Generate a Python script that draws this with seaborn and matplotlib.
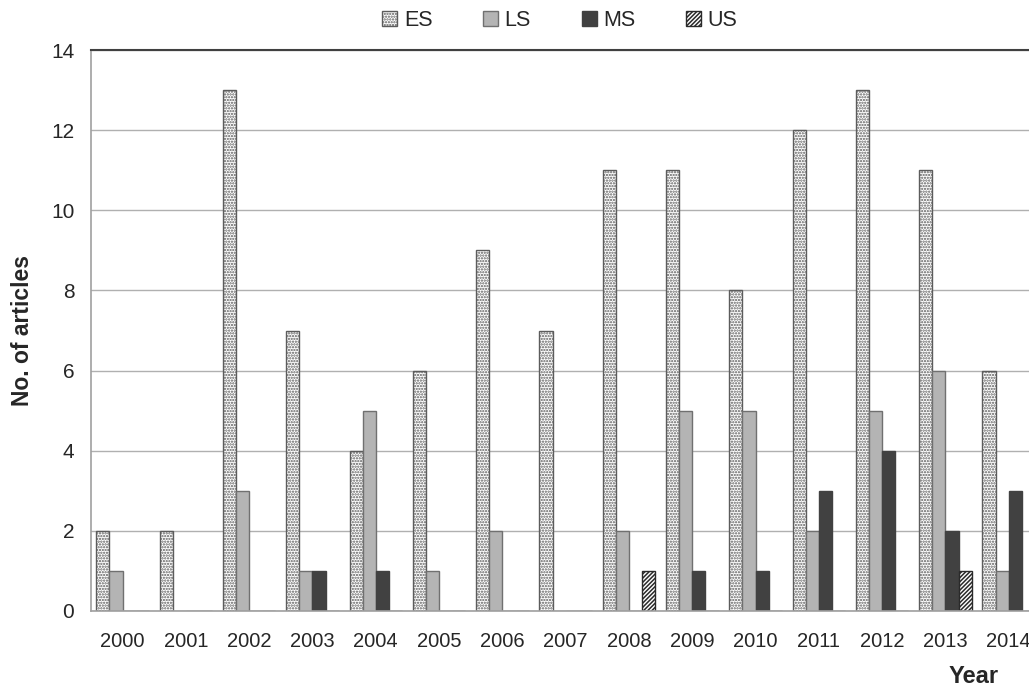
import pandas as pd
import matplotlib
matplotlib.use('Agg')
import matplotlib.pyplot as plt
import seaborn as sns

# Data
years = ['2000', '2001', '2002', '2003', '2004', '2005', '2006', '2007',
         '2008', '2009', '2010', '2011', '2012', '2013', '2014']
es = [2, 2, 13, 7, 4, 6, 9, 7, 11, 11, 8, 12, 13, 11, 6]
ls = [1, 0, 3, 1, 5, 1, 2, 0, 2, 5, 5, 2, 5, 6, 1]
ms = [0, 0, 0, 1, 1, 0, 0, 0, 0, 1, 1, 3, 4, 2, 3]
us = [0, 0, 0, 0, 0, 0, 0, 0, 1, 0, 0, 0, 0, 1, 0]
series = ['ES', 'LS', 'MS', 'US']

df = pd.DataFrame({'Year': years, 'ES': es, 'LS': ls, 'MS': ms, 'US': us})
df_long = df.melt(id_vars='Year', var_name='Type', value_name='Count')

sns.set_style("white")
plt.rcParams['font.family'] = ['Liberation Sans', 'DejaVu Sans']
plt.rcParams['hatch.linewidth'] = 1.1

fig = plt.figure(figsize=(10.29, 6.9), dpi=100)
ax = fig.add_axes([0.0884, 0.1145, 0.9116, 0.813])

palette = {'ES': 'white', 'LS': '#b4b4b4', 'MS': '#414141', 'US': 'white'}
sns.barplot(data=df_long, x='Year', y='Count', hue='Type', hue_order=series,
            palette=palette, width=0.83, gap=0, saturation=1, legend=False,
            edgecolor='#707070', linewidth=1, ax=ax)

hatches = {'ES': '......', 'LS': '', 'MS': '', 'US': '////////'}
edges = {'ES': '#5c5c5c', 'LS': '#707070', 'MS': '#414141', 'US': '#2a2a2a'}
for name, cont in zip(series, ax.containers):
    for p in cont.patches:
        p.set_hatch(hatches[name])
        p.set_edgecolor(edges[name])

# group separators as small inward ticks (set before xlim, set_xticks expands limits)
ax.set_xticks([i + 0.5 for i in range(-1, 15)], minor=True)
ax.set_xlim(-0.5, 14.32)
ax.set_ylim(0, 14)
ax.set_yticks(range(0, 15, 2))
ax.yaxis.grid(True, color='#b0b0b0', linewidth=1)
ax.set_axisbelow(True)

for side in ['left', 'bottom']:
    ax.spines[side].set_color('#a0a0a0')
    ax.spines[side].set_linewidth(1.2)
ax.spines['top'].set_color('#404040')
ax.spines['top'].set_linewidth(1.5)
ax.spines['right'].set_visible(False)

ax.tick_params(axis='x', which='minor', direction='in', length=6,
               color='#a0a0a0', width=1)
ax.tick_params(axis='x', which='major', length=0, pad=15, labelsize=14.5)
ax.tick_params(axis='y', length=0, pad=12, labelsize=15)

ax.set_ylabel('No. of articles', fontsize=16.5, fontweight='bold')
ax.yaxis.set_label_coords(-0.061, 0.5)
ax.set_xlabel('')
fig.text(0.946, 0.003, 'Year', fontsize=17, fontweight='bold', ha='center', va='bottom')

fig.legend(ax.containers, series, loc='center', bbox_to_anchor=(0.544, 0.970),
           ncol=4, frameon=False, fontsize=15.5, handlelength=0.7, handleheight=0.7,
           handletextpad=0.3, columnspacing=2.35)

plt.savefig('out.png', dpi=100)
